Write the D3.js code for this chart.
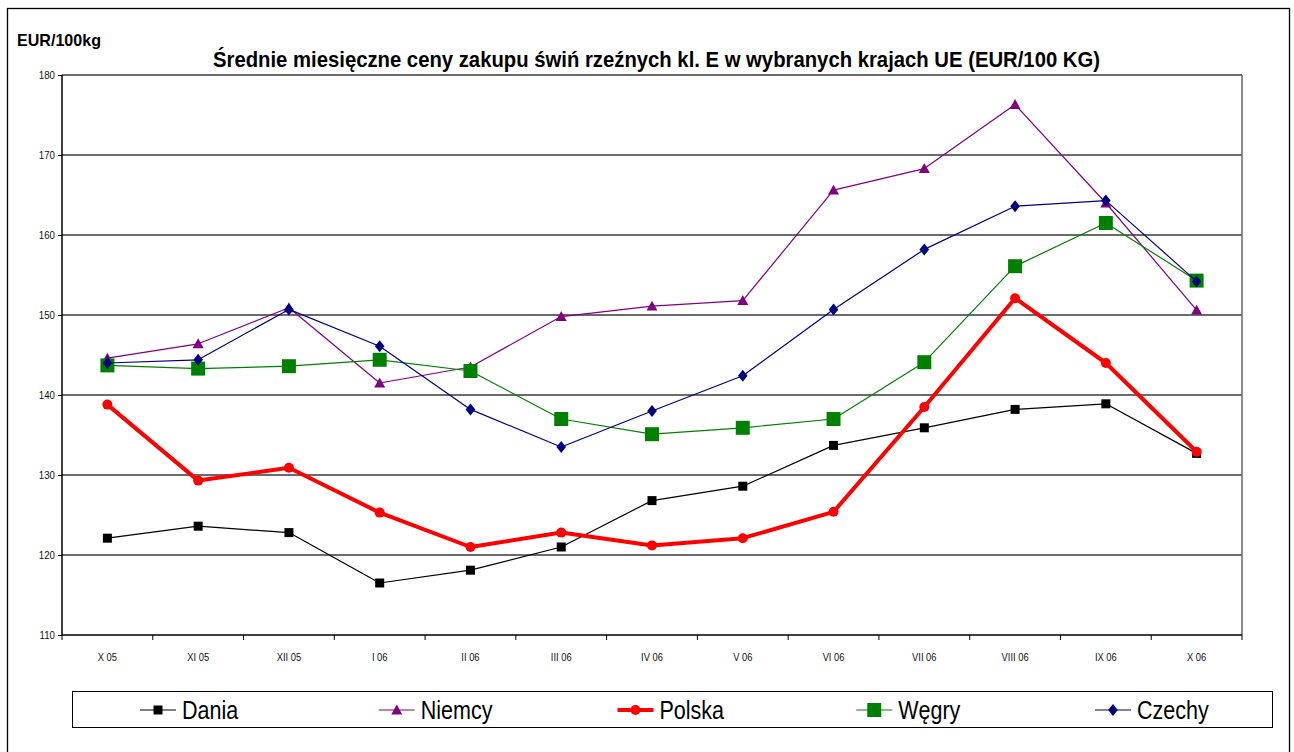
<!DOCTYPE html>
<html>
<head>
<meta charset="utf-8">
<script src="https://cdn.jsdelivr.net/npm/d3@7"></script>
<style>
  body { margin: 0; background: #fff; }
  svg { display: block; }
  .narrow { font-family: "Liberation Sans Narrow", "Arial Narrow", "Liberation Sans", sans-serif; }
</style>
</head>
<body>
<div class="graph"></div>
<script>
// Categories and tick labels
const months = ["X 05", "XI 05", "XII 05", "I 06", "II 06", "III 06", "IV 06",
  "V 06", "VI 06", "VII 06", "VIII 06", "IX 06", "X 06"];
const yTicks = [110, 120, 130, 140, 150, 160, 170, 180];

// Series values (EUR/100kg)
const dania  = [122.1, 123.6, 122.8, 116.5, 118.1, 121.0, 126.8, 128.6, 133.7, 135.9, 138.2, 138.9, 132.7];
const niemcy = [144.6, 146.4, 150.9, 141.5, 143.5, 149.8, 151.1, 151.8, 165.6, 168.3, 176.3, 164.0, 150.6];
const polska = [138.8, 129.3, 130.9, 125.3, 121.0, 122.8, 121.2, 122.1, 125.4, 138.5, 152.1, 144.0, 132.9];
const wegry  = [143.7, 143.3, 143.6, 144.4, 143.0, 137.0, 135.1, 135.9, 137.0, 144.1, 156.1, 161.5, 154.3];
const czechy = [144.0, 144.4, 150.7, 146.1, 138.2, 133.5, 138.0, 142.4, 150.7, 158.2, 163.6, 164.3, 154.2];

const seriesNames = ["Dania", "Niemcy", "Polska", "Węgry", "Czechy"];

const series = [
  { name: seriesNames[0], values: dania,  color: "#000000", width: 1.2, marker: "square", size: 9 },
  { name: seriesNames[1], values: niemcy, color: "#800080", width: 1.2, marker: "triangle", size: 11 },
  { name: seriesNames[2], values: polska, color: "#ff0000", width: 4,   marker: "circle", size: 10 },
  { name: seriesNames[3], values: wegry,  color: "#008000", width: 1.2, marker: "square", size: 14 },
  { name: seriesNames[4], values: czechy, color: "#000080", width: 1.2, marker: "diamond", size: 12 }
];

let W = 1294, H = 752;
let plotLeft = 62, plotRight = 1242, plotTop = 75, plotBottom = 635;

let svg = d3.select(".graph").append("svg")
  .attr("width", W)
  .attr("height", H);

// squeeze text horizontally to mimic a narrow font
function condense(sel, factor) {
  sel.each(function() {
    let len = this.getComputedTextLength();
    d3.select(this).attr("textLength", len * factor).attr("lengthAdjust", "spacingAndGlyphs");
  });
}

// Outer frame
svg.append("rect")
  .attr("x", 7.5).attr("y", 8.5)
  .attr("width", 1282).attr("height", 760)
  .attr("fill", "none").attr("stroke", "#000").attr("stroke-width", 1.3);

let x = d3.scaleBand().domain(months).range([plotLeft, plotRight]);
let y = d3.scaleLinear().domain([110, 180]).range([plotBottom, plotTop]);

// Horizontal grid
svg.append("g")
  .selectAll("line")
  .data(yTicks.slice(1))
  .join("line")
  .attr("x1", plotLeft).attr("x2", plotRight)
  .attr("y1", d => y(d)).attr("y2", d => y(d))
  .attr("stroke", "#3a3a3a").attr("stroke-width", 1.3);

// Right border of plot
svg.append("line")
  .attr("x1", plotRight).attr("x2", plotRight)
  .attr("y1", plotTop).attr("y2", plotBottom)
  .attr("stroke", "#666").attr("stroke-width", 1.5);

// Y axis
let yAxis = svg.append("g")
  .attr("class", "narrow")
  .attr("transform", "translate(" + plotLeft + ",0)")
  .call(d3.axisLeft(y).tickValues(yTicks).tickSize(4).tickPadding(3));
yAxis.select(".domain").attr("stroke-width", 1.5).attr("d", "M0," + plotTop + "V" + plotBottom);
yAxis.selectAll("text").attr("font-size", 11).attr("font-family", null).attr("fill", "#111")
  .call(condense, 0.88);

// X axis
let xAxis = svg.append("g")
  .attr("class", "narrow")
  .attr("transform", "translate(0," + plotBottom + ")")
  .call(d3.axisBottom(x).tickSize(0).tickPadding(18));
xAxis.select(".domain").attr("stroke-width", 1.5).attr("d", "M" + plotLeft + ",0H" + plotRight);
xAxis.selectAll("text").attr("font-size", 11).attr("font-family", null).attr("fill", "#111")
  .call(condense, 0.85);

// Tick marks between categories
svg.append("g")
  .selectAll("line")
  .data(months.map(m => x(m)).concat([x(months[months.length - 1]) + x.bandwidth()]))
  .join("line")
  .attr("x1", d => d).attr("x2", d => d)
  .attr("y1", plotBottom).attr("y2", plotBottom + 5)
  .attr("stroke", "#000").attr("stroke-width", 1);

function markerPath(type, s) {
  const h = s / 2;
  if (type === "square") return `M${-h},${-h}H${h}V${h}H${-h}Z`;
  if (type === "triangle") return `M0,${-h}L${h},${h * 0.8}L${-h},${h * 0.8}Z`;
  if (type === "diamond") return `M0,${-h}L${h * 0.8},0L0,${h}L${-h * 0.8},0Z`;
  return d3.symbol(d3.symbolCircle, Math.PI * h * h)();
}

let line = d3.line()
  .x((d, i) => x(months[i]) + x.bandwidth() / 2)
  .y(d => y(d));

series.forEach(s => {
  let g = svg.append("g");
  g.append("path")
    .attr("d", line(s.values))
    .attr("fill", "none")
    .attr("stroke", s.color)
    .attr("stroke-width", s.width)
    .attr("stroke-linejoin", "round");
  g.selectAll("path.m")
    .data(s.values)
    .join("path")
    .attr("class", "m")
    .attr("transform", (d, i) => "translate(" + (x(months[i]) + x.bandwidth() / 2) + "," + y(d) + ")")
    .attr("d", markerPath(s.marker, s.size))
    .attr("fill", s.color);
});

// Titles
svg.append("text")
  .attr("x", 17).attr("y", 46)
  .attr("font-family", "Liberation Sans Narrow, Liberation Sans, sans-serif")
  .attr("font-weight", "bold").attr("font-size", 17)
  .text("EUR/100kg")
  .attr("textLength", 84).attr("lengthAdjust", "spacingAndGlyphs");

svg.append("text")
  .attr("x", 213).attr("y", 67)
  .attr("font-family", "Liberation Sans Narrow, Liberation Sans, sans-serif")
  .attr("font-weight", "bold").attr("font-size", 22)
  .text("Średnie miesięczne ceny zakupu świń rzeźnych kl. E w wybranych krajach UE (EUR/100 KG)")
  .attr("textLength", 887).attr("lengthAdjust", "spacingAndGlyphs");

// Legend
let legend = svg.append("g");
legend.append("rect")
  .attr("x", 72.5).attr("y", 691.5)
  .attr("width", 1200).attr("height", 36)
  .attr("fill", "#fff").attr("stroke", "#000").attr("stroke-width", 1);

let legendX = d3.scalePoint().domain(seriesNames).range([140, 1095]);

series.forEach(s => {
  let lx = legendX(s.name), ly = 710;
  let g = legend.append("g");
  g.append("line")
    .attr("x1", lx).attr("x2", lx + 36)
    .attr("y1", ly).attr("y2", ly)
    .attr("stroke", s.color).attr("stroke-width", s.width);
  g.append("path")
    .attr("transform", "translate(" + (lx + 18) + "," + ly + ")")
    .attr("d", markerPath(s.marker, s.size))
    .attr("fill", s.color);
  g.append("text")
    .attr("x", lx + 42).attr("y", ly + 9)
    .attr("font-family", "Liberation Sans Narrow, Liberation Sans, sans-serif")
    .attr("font-size", 25)
    .text(s.name)
    .call(condense, 0.86);
});
</script>
</body>
</html>
